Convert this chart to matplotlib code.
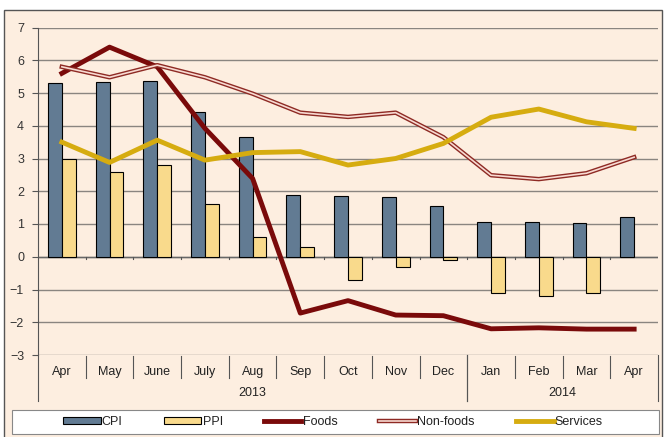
import matplotlib
matplotlib.use("Agg")
import matplotlib.pyplot as plt
import matplotlib.transforms as mtransforms
from matplotlib.patches import Patch, Rectangle
from matplotlib.lines import Line2D
from matplotlib.legend_handler import HandlerTuple
import numpy as np

months = ["Apr", "May", "June", "July", "Aug", "Sep", "Oct", "Nov", "Dec",
          "Jan", "Feb", "Mar", "Apr"]
years = ["2013", "2014"]
year_spans = [(0, 9), (9, 13)]   # month index ranges per year
cpi = [5.3, 5.33, 5.38, 4.43, 3.67, 1.88, 1.87, 1.83, 1.55, 1.05, 1.05, 1.02, 1.2]
ppi = [3.0, 2.6, 2.8, 1.6, 0.6, 0.3, -0.7, -0.3, -0.1, -1.1, -1.2, -1.1, np.nan]
foods = [5.6, 6.4, 5.8, 3.92, 2.39, -1.72, -1.34, -1.78, -1.8, -2.2, -2.17, -2.21, -2.21]
nonfoods = [5.8, 5.48, 5.85, 5.48, 4.98, 4.4, 4.27, 4.4, 3.65, 2.49, 2.37, 2.55, 3.04]
services = [3.5, 2.88, 3.56, 2.95, 3.18, 3.21, 2.8, 3.0, 3.46, 4.26, 4.51, 4.12, 3.92]

BG = "#FDEEE0"
C_CPI = "#627B93"
C_PPI = "#F9DA8C"
C_FOOD = "#7A0A0A"
C_NONF = "#8E2A24"
C_NONF_IN = "#F8DAD2"
C_SERV = "#D6AC10"

plt.rcParams["font.family"] = ["Liberation Sans", "DejaVu Sans"]

W, H = 665, 437
fig = plt.figure(figsize=(W / 100, H / 100), dpi=100)
fig.patch.set_facecolor("white")

# outer chart frame and legend box
fig.patches.append(Rectangle((4 / W, -0.01), 658 / W, 427 / H + 0.01, transform=fig.transFigure,
                             facecolor=BG, edgecolor="#555555", lw=1, zorder=-2))
fig.patches.append(Rectangle((12 / W, 3 / H), 647 / W, 24 / H, transform=fig.transFigure,
                             facecolor="white", edgecolor="#888888", lw=0.8, zorder=-1))

ax = fig.add_axes([38 / W, 1 - 355 / H, 620 / W, (355 - 27.5) / H])
ax.set_facecolor(BG)

x = np.arange(len(months))
bw = 0.29
ax.bar(x - bw / 2, cpi, bw, color=C_CPI, edgecolor="black", lw=0.8, zorder=3)
ax.bar(x + bw / 2, ppi, bw, color=C_PPI, edgecolor="black", lw=0.8, zorder=3)
ax.plot(x, foods, color=C_FOOD, lw=3.5, zorder=4)
ax.plot(x, nonfoods, color=C_NONF, lw=3.2, zorder=4)
ax.plot(x, nonfoods, color=C_NONF_IN, lw=1.2, zorder=4)
ax.plot(x, services, color=C_SERV, lw=3.5, zorder=4)

ax.set_xlim(-0.5, len(months) - 0.5)
ax.set_ylim(-3, 7)
ax.set_yticks(range(-3, 8))
ax.tick_params(axis="y", length=4, color="#555555", labelsize=9, labelcolor="#333333", pad=6)
ax.grid(axis="y", color="#8A8580", lw=1, zorder=1)
ax.set_xticks([])
for s in ["top", "right", "bottom"]:
    ax.spines[s].set_visible(False)
ax.spines["left"].set_color("#555555")
ax.axhline(0, color="#666666", lw=1, zorder=2)
# small category ticks on the zero line
for b in np.arange(0.5, len(months) - 0.5):
    ax.plot([b, b], [0, -0.08], color="#555555", lw=0.8, zorder=2)

# category axis below the plot
tr = mtransforms.blended_transform_factory(ax.transData, fig.transFigure)
fy = lambda p: 1 - p / H
for i, m in enumerate(months):
    ax.text(i, fy(372), m, transform=tr, ha="center", va="center", fontsize=9, color="#222222")
for b in np.arange(0.5, len(months) - 0.5):
    if b == 8.5:
        continue
    ax.plot([b, b], [fy(356), fy(378)], transform=tr, color="#555555", lw=0.8, clip_on=False)
for (a, e), yr in zip(year_spans, years):
    ax.plot([a - 0.5, a - 0.5], [fy(355), fy(401)], transform=tr, color="#555555", lw=0.8, clip_on=False)
    ax.plot([e - 0.5, e - 0.5], [fy(355), fy(401)], transform=tr, color="#555555", lw=0.8, clip_on=False)
    ax.text((a + e - 1) / 2, fy(393), yr, transform=tr, ha="center", va="center", fontsize=9, color="#222222")

handles = [
    Patch(facecolor=C_CPI, edgecolor="black", lw=0.8),
    Patch(facecolor=C_PPI, edgecolor="black", lw=0.8),
    Line2D([], [], color=C_FOOD, lw=3.5),
    (Line2D([], [], color=C_NONF, lw=3.2), Line2D([], [], color=C_NONF_IN, lw=1.2)),
    Line2D([], [], color=C_SERV, lw=3.5),
]
labels = ["CPI", "PPI", "Foods", "Non-foods", "Services"]
leg = fig.legend(handles, labels, ncol=5, loc="center",
                 bbox_to_anchor=(333 / W, 15 / H), frameon=False, fontsize=9,
                 handlelength=3.0, handleheight=0.4, handletextpad=0.1,
                 columnspacing=3.3,
                 handler_map={tuple: HandlerTuple(ndivide=1, pad=0)})
for t in leg.get_texts():
    t.set_color("#222222")

fig.savefig("out.png", dpi=100)
